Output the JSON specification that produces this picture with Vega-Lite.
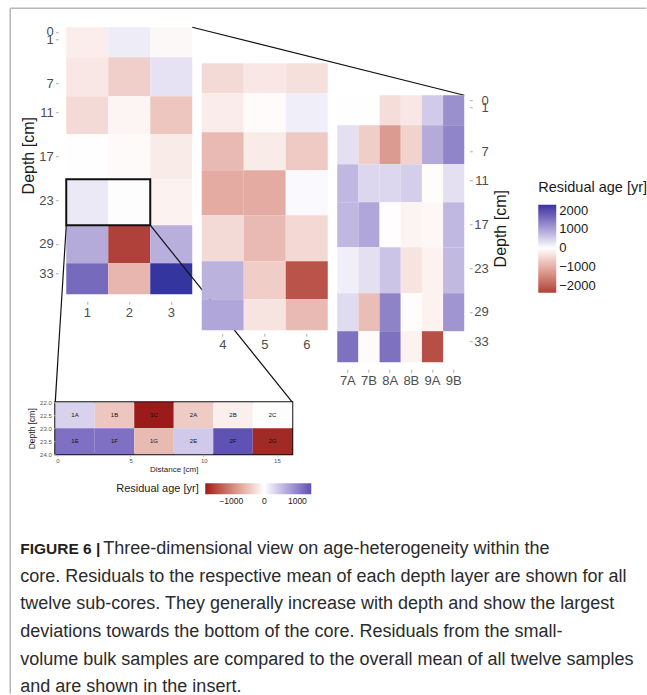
{
  "$schema": "https://vega.github.io/schema/vega-lite/v6.json",
  "padding": {"left": 9.25, "top": 7.25, "right": 0, "bottom": 0},
  "background": "white",
  "config": {
    "view": {"stroke": null},
    "font": "Liberation Sans",
    "axis": {"grid": false, "domain": false, "labelFont": "Liberation Sans", "labelColor": "#4d4d4d", "labelFontSize": 13, "tickColor": "#b0b0b0", "tickSize": 3, "tickWidth": 1, "titleFontWeight": "normal", "titleColor": "#1a1a1a", "titleFontSize": 16, "labelFlush": false},
    "legend": {"titleFontWeight": "normal", "labelColor": "#1a1a1a", "titleColor": "#1a1a1a", "gradientStrokeWidth": 0, "titleFont": "Liberation Sans", "labelFont": "Liberation Sans"}
  },
  "datasets": {
    "layers": [
      {"layer": 1, "top": -0.65, "bottom": 3.45},
      {"layer": 2, "top": 3.45, "bottom": 8.8},
      {"layer": 3, "top": 8.8, "bottom": 14.0},
      {"layer": 4, "top": 14.0, "bottom": 20.15},
      {"layer": 5, "top": 20.15, "bottom": 26.45},
      {"layer": 6, "top": 26.45, "bottom": 31.65},
      {"layer": 7, "top": 31.65, "bottom": 35.9}
    ],
    "cells": [
      {"core": "1", "layer": 1, "resid": -220}, {"core": "1", "layer": 2, "resid": -300}, {"core": "1", "layer": 3, "resid": -450}, {"core": "1", "layer": 4, "resid": -15}, {"core": "1", "layer": 5, "resid": 230}, {"core": "1", "layer": 6, "resid": 900}, {"core": "1", "layer": 7, "resid": 1650},
      {"core": "2", "layer": 1, "resid": 200}, {"core": "2", "layer": 2, "resid": -600}, {"core": "2", "layer": 3, "resid": -120}, {"core": "2", "layer": 4, "resid": -60}, {"core": "2", "layer": 5, "resid": 20}, {"core": "2", "layer": 6, "resid": -2370}, {"core": "2", "layer": 7, "resid": -900},
      {"core": "3", "layer": 1, "resid": -80}, {"core": "3", "layer": 2, "resid": 300}, {"core": "3", "layer": 3, "resid": -700}, {"core": "3", "layer": 4, "resid": -250}, {"core": "3", "layer": 5, "resid": -150}, {"core": "3", "layer": 6, "resid": 850}, {"core": "3", "layer": 7, "resid": 2310},
      {"core": "4", "layer": 1, "resid": -450}, {"core": "4", "layer": 2, "resid": -230}, {"core": "4", "layer": 3, "resid": -850}, {"core": "4", "layer": 4, "resid": -1050}, {"core": "4", "layer": 5, "resid": -450}, {"core": "4", "layer": 6, "resid": 820}, {"core": "4", "layer": 7, "resid": 950},
      {"core": "5", "layer": 1, "resid": -300}, {"core": "5", "layer": 2, "resid": -50}, {"core": "5", "layer": 3, "resid": -250}, {"core": "5", "layer": 4, "resid": -1050}, {"core": "5", "layer": 5, "resid": -850}, {"core": "5", "layer": 6, "resid": -620}, {"core": "5", "layer": 7, "resid": -350},
      {"core": "6", "layer": 1, "resid": -380}, {"core": "6", "layer": 2, "resid": 180}, {"core": "6", "layer": 3, "resid": -650}, {"core": "6", "layer": 4, "resid": 60}, {"core": "6", "layer": 5, "resid": -480}, {"core": "6", "layer": 6, "resid": -2150}, {"core": "6", "layer": 7, "resid": -850},
      {"core": "7A", "layer": 1, "resid": 10}, {"core": "7A", "layer": 2, "resid": 320}, {"core": "7A", "layer": 3, "resid": 750}, {"core": "7A", "layer": 4, "resid": 760}, {"core": "7A", "layer": 5, "resid": 180}, {"core": "7A", "layer": 6, "resid": 380}, {"core": "7A", "layer": 7, "resid": 1550},
      {"core": "7B", "layer": 1, "resid": -10}, {"core": "7B", "layer": 2, "resid": -620}, {"core": "7B", "layer": 3, "resid": 420}, {"core": "7B", "layer": 4, "resid": 950}, {"core": "7B", "layer": 5, "resid": 320}, {"core": "7B", "layer": 6, "resid": -820}, {"core": "7B", "layer": 7, "resid": -50},
      {"core": "8A", "layer": 1, "resid": -420}, {"core": "8A", "layer": 2, "resid": -1250}, {"core": "8A", "layer": 3, "resid": 420}, {"core": "8A", "layer": 4, "resid": -20}, {"core": "8A", "layer": 5, "resid": 620}, {"core": "8A", "layer": 6, "resid": 1350}, {"core": "8A", "layer": 7, "resid": 1550},
      {"core": "8B", "layer": 1, "resid": -300}, {"core": "8B", "layer": 2, "resid": -560}, {"core": "8B", "layer": 3, "resid": 520}, {"core": "8B", "layer": 4, "resid": -140}, {"core": "8B", "layer": 5, "resid": -330}, {"core": "8B", "layer": 6, "resid": -30}, {"core": "8B", "layer": 7, "resid": -160},
      {"core": "9A", "layer": 1, "resid": 550}, {"core": "9A", "layer": 2, "resid": 900}, {"core": "9A", "layer": 3, "resid": -30}, {"core": "9A", "layer": 4, "resid": -100}, {"core": "9A", "layer": 5, "resid": -160}, {"core": "9A", "layer": 6, "resid": -150}, {"core": "9A", "layer": 7, "resid": -2200},
      {"core": "9B", "layer": 1, "resid": 1200}, {"core": "9B", "layer": 2, "resid": 1330}, {"core": "9B", "layer": 3, "resid": 320}, {"core": "9B", "layer": 4, "resid": 760}, {"core": "9B", "layer": 5, "resid": 740}, {"core": "9B", "layer": 6, "resid": 1150}
    ],
    "guides": [
      {"kind": "frame", "x": -0.8333, "y": -3.25, "x2": -0.8333, "y2": 90.6},
      {"kind": "frame", "x": -0.8333, "y": -3.25, "x2": 14.31, "y2": -3.25},
      {"kind": "link", "x": 3.5, "y": -0.65, "x2": 9.976, "y2": 8.66},
      {"kind": "link", "x": 0.5, "y": 26.45, "x2": 0.238, "y2": 50.68},
      {"kind": "link", "x": 2.5, "y": 26.45, "x2": 5.881, "y2": 50.68},
      {"kind": "box", "x": 0.5, "y": 20.15, "x2": 2.5, "y2": 26.45}
    ],
    "insetcols": [
      {"col": 1, "from": -0.15, "to": 2.55, "center": 1.2},
      {"col": 2, "from": 2.55, "to": 5.25, "center": 3.9},
      {"col": 3, "from": 5.25, "to": 7.95, "center": 6.6},
      {"col": 4, "from": 7.95, "to": 10.65, "center": 9.3},
      {"col": 5, "from": 10.65, "to": 13.35, "center": 12.0},
      {"col": 6, "from": 13.35, "to": 16.05, "center": 14.7}
    ],
    "inset": [
      {"sample": "1A", "col": 1, "top": 22, "bottom": 23, "depth": 22.5, "resid": 350},
      {"sample": "1B", "col": 2, "top": 22, "bottom": 23, "depth": 22.5, "resid": -450},
      {"sample": "1C", "col": 3, "top": 22, "bottom": 23, "depth": 22.5, "resid": -1790},
      {"sample": "2A", "col": 4, "top": 22, "bottom": 23, "depth": 22.5, "resid": -420},
      {"sample": "2B", "col": 5, "top": 22, "bottom": 23, "depth": 22.5, "resid": -130},
      {"sample": "2C", "col": 6, "top": 22, "bottom": 23, "depth": 22.5, "resid": -10},
      {"sample": "1E", "col": 1, "top": 23, "bottom": 24, "depth": 23.5, "resid": 1150},
      {"sample": "1F", "col": 2, "top": 23, "bottom": 24, "depth": 23.5, "resid": 1150},
      {"sample": "1G", "col": 3, "top": 23, "bottom": 24, "depth": 23.5, "resid": -550},
      {"sample": "2E", "col": 4, "top": 23, "bottom": 24, "depth": 23.5, "resid": 420},
      {"sample": "2F", "col": 5, "top": 23, "bottom": 24, "depth": 23.5, "resid": 1420},
      {"sample": "2G", "col": 6, "top": 23, "bottom": 24, "depth": 23.5, "resid": -1700}
    ],
    "caption": [
      {"line": 1, "part": "bold", "text": "FIGURE 6 |"},
      {"line": 1, "part": "first", "text": "Three-dimensional view on age-heterogeneity within the"},
      {"line": 2, "part": "body", "text": "core. Residuals to the respective mean of each depth layer are shown for all"},
      {"line": 3, "part": "body", "text": "twelve sub-cores. They generally increase with depth and show the largest"},
      {"line": 4, "part": "body", "text": "deviations towards the bottom of the core. Residuals from the small-"},
      {"line": 5, "part": "body", "text": "volume bulk samples are compared to the overall mean of all twelve samples"},
      {"line": 6, "part": "body", "text": "and are shown in the insert."}
    ]
  },
  "vconcat": [
    {
      "width": 409,
      "height": 335,
      "layer": [
        {
          "data": {"name": "guides"},
          "transform": [{"filter": "datum.kind == 'frame'"}],
          "mark": {"type": "rule", "color": "#b8b8b8", "strokeWidth": 1.5},
          "encoding": {
            "x": {"field": "x", "type": "quantitative", "scale": {"domain": [0.2381, 9.9762], "nice": false, "zero": false}, "axis": null},
            "x2": {"field": "x2"},
            "y": {"field": "y", "type": "quantitative", "scale": {"domain": [-0.65, 45.21], "reverse": true, "nice": false, "zero": false}, "axis": null},
            "y2": {"field": "y2"}
          }
        },
        {
          "data": {"name": "cells"},
          "transform": [
            {"filter": {"field": "core", "oneOf": ["1", "2", "3"]}},
            {"lookup": "layer", "from": {"data": {"name": "layers"}, "key": "layer", "fields": ["top", "bottom"]}}
          ],
          "mark": {"type": "rect"},
          "encoding": {
            "x": {"field": "core", "type": "nominal", "sort": ["1", "2", "3"], "scale": {"paddingInner": 0, "paddingOuter": 0, "range": [11, 137]}, "axis": {"orient": "bottom", "offset": -61, "title": null, "labelAngle": 0, "labelPadding": 2}},
            "y": {"field": "top", "type": "quantitative", "scale": {"domain": [-0.65, 45.21], "reverse": true, "nice": false, "zero": false}, "axis": {"orient": "left", "offset": -3, "values": [0, 1, 7, 11, 17, 23, 29, 33], "labelPadding": 2, "labelOverlap": false, "title": "Depth [cm]", "titlePadding": 2, "titleY": 128}},
            "y2": {"field": "bottom"},
            "color": {"field": "resid", "type": "quantitative", "scale": {"type": "linear", "domain": [-2370, 0, 2310], "range": ["#b0403a", "#ffffff", "#3535a0"], "interpolate": "lab"},
              "legend": {"orient": "none", "legendX": 483, "legendY": 154, "title": "Residual age [yr]", "titleFontSize": 14.5, "titleAnchor": "start", "titlePadding": 9, "gradientLength": 88, "gradientThickness": 18, "labelFontSize": 13, "labelOffset": 3, "values": [-2000, -1000, 0, 1000, 2000], "format": "d", "padding": 0, "direction": "vertical"}}
          }
        },
        {
          "data": {"name": "guides"},
          "transform": [{"filter": "datum.kind == 'box'"}],
          "mark": {"type": "rect", "filled": false, "color": "#111111", "strokeWidth": 2},
          "encoding": {
            "x": {"field": "x", "type": "quantitative", "scale": {"domain": [0.2381, 9.9762], "nice": false, "zero": false}, "axis": null},
            "x2": {"field": "x2"},
            "y": {"field": "y", "type": "quantitative", "scale": {"domain": [-0.65, 45.21], "reverse": true, "nice": false, "zero": false}, "axis": null},
            "y2": {"field": "y2"}
          }
        },
        {
          "data": {"name": "guides"},
          "transform": [{"filter": "datum.kind == 'link'"}],
          "mark": {"type": "rule", "color": "#111111", "strokeWidth": 1.2},
          "encoding": {
            "x": {"field": "x", "type": "quantitative", "scale": {"domain": [0.2381, 9.9762], "nice": false, "zero": false}, "axis": null},
            "x2": {"field": "x2"},
            "y": {"field": "y", "type": "quantitative", "scale": {"domain": [-0.65, 45.21], "reverse": true, "nice": false, "zero": false}, "axis": null},
            "y2": {"field": "y2"}
          }
        },
        {
          "data": {"name": "cells"},
          "transform": [
            {"filter": {"field": "core", "oneOf": ["4", "5", "6"]}},
            {"lookup": "layer", "from": {"data": {"name": "layers"}, "key": "layer", "fields": ["top", "bottom"]}}
          ],
          "mark": {"type": "rect"},
          "encoding": {
            "x": {"field": "core", "type": "nominal", "sort": ["4", "5", "6"], "scale": {"paddingInner": 0, "paddingOuter": 0, "range": [146.5, 272.5]}, "axis": {"orient": "bottom", "offset": -29, "title": null, "labelAngle": 0, "labelPadding": 2}},
            "y": {"field": "top", "type": "quantitative", "scale": {"domain": [-5.578, 40.28], "reverse": true, "nice": false, "zero": false}, "axis": null},
            "y2": {"field": "bottom"},
            "color": {"field": "resid", "type": "quantitative", "scale": {"type": "linear", "domain": [-2370, 0, 2310], "range": ["#b0403a", "#ffffff", "#3535a0"], "interpolate": "lab"},
              "legend": {"orient": "none", "legendX": 483, "legendY": 154, "title": "Residual age [yr]", "titleFontSize": 14.5, "titleAnchor": "start", "titlePadding": 9, "gradientLength": 88, "gradientThickness": 18, "labelFontSize": 13, "labelOffset": 3, "values": [-2000, -1000, 0, 1000, 2000], "format": "d", "padding": 0, "direction": "vertical"}}
          }
        },
        {
          "data": {"name": "cells"},
          "transform": [
            {"filter": {"field": "core", "oneOf": ["7A", "7B", "8A", "8B", "9A", "9B"]}},
            {"lookup": "layer", "from": {"data": {"name": "layers"}, "key": "layer", "fields": ["top", "bottom"]}}
          ],
          "mark": {"type": "rect"},
          "encoding": {
            "x": {"field": "core", "type": "nominal", "sort": ["7A", "7B", "8A", "8B", "9A", "9B"], "scale": {"paddingInner": 0, "paddingOuter": 0, "range": [282, 409]}, "axis": {"orient": "bottom", "offset": 7, "title": null, "labelAngle": 0, "labelPadding": 2}},
            "y": {"field": "top", "type": "quantitative", "scale": {"domain": [-9.959, 35.9], "reverse": true, "nice": false, "zero": false}, "axis": {"orient": "right", "offset": 5, "values": [0, 1, 7, 11, 17, 23, 29, 33], "labelAlign": "right", "labelPadding": 16, "labelOverlap": false, "title": "Depth [cm]", "titleAngle": 270, "titleBaseline": "middle", "titleAlign": "center", "titleX": 31, "titleY": 201}},
            "y2": {"field": "bottom"},
            "color": {"field": "resid", "type": "quantitative", "scale": {"type": "linear", "domain": [-2370, 0, 2310], "range": ["#b0403a", "#ffffff", "#3535a0"], "interpolate": "lab"},
              "legend": {"orient": "none", "legendX": 483, "legendY": 154, "title": "Residual age [yr]", "titleFontSize": 14.5, "titleAnchor": "start", "titlePadding": 9, "gradientLength": 88, "gradientThickness": 18, "labelFontSize": 13, "labelOffset": 3, "values": [-2000, -1000, 0, 1000, 2000], "format": "d", "padding": 0, "direction": "vertical"}}
          }
        }
      ],
      "resolve": {"scale": {"x": "independent", "y": "independent"}}
    },
    {
      "width": 237,
      "height": 52,
      "view": {"stroke": "#111111", "strokeWidth": 2},
      "data": {"name": "inset"},
      "transform": [{"lookup": "col", "from": {"data": {"name": "insetcols"}, "key": "col", "fields": ["from", "to", "center"]}}],
      "layer": [
        {
          "mark": {"type": "rect"},
          "encoding": {
            "x": {"field": "from", "type": "quantitative", "scale": {"domain": [-0.15, 16.05], "nice": false, "zero": false}, "axis": {"values": [0, 5, 10, 15], "title": "Distance [cm]", "labelFontSize": 6, "labelColor": "#555555", "tickSize": 2, "labelPadding": 1, "titleFontSize": 8, "titlePadding": 2, "labelOverlap": false}},
            "x2": {"field": "to"},
            "y": {"field": "top", "type": "quantitative", "scale": {"domain": [22, 24], "reverse": true, "nice": false, "zero": false}, "axis": {"values": [22, 22.5, 23, 23.5, 24], "format": ".1f", "title": "Depth [cm]", "labelFontSize": 6, "labelColor": "#555555", "labelOverlap": false, "labelSeparation": 0, "tickSize": 2, "labelPadding": 2, "titleFontSize": 8.5, "titlePadding": 3}},
            "y2": {"field": "bottom"},
            "color": {"field": "resid", "type": "quantitative", "scale": {"type": "linear", "domain": [-1790, 0, 1420], "range": ["#9b1a1a", "#ffffff", "#5f52b4"], "interpolate": "lab"},
              "legend": {"orient": "none", "legendX": 61, "legendY": 81, "direction": "horizontal", "titleOrient": "left", "title": "Residual age [yr]", "titleFontSize": 11, "titlePadding": 6, "gradientLength": 106, "gradientThickness": 11, "labelFontSize": 8.5, "labelOffset": 3, "values": [-1000, 0, 1000], "format": "d", "padding": 0}}
          }
        },
        {
          "mark": {"type": "text", "fontSize": 6, "color": "#111111"},
          "encoding": {
            "x": {"field": "center", "type": "quantitative", "axis": {"values": [0, 5, 10, 15], "title": "Distance [cm]", "labelFontSize": 6, "labelColor": "#555555", "tickSize": 2, "labelPadding": 1, "titleFontSize": 8, "titlePadding": 2, "labelOverlap": false}},
            "y": {"field": "depth", "type": "quantitative", "axis": {"values": [22, 22.5, 23, 23.5, 24], "format": ".1f", "title": "Depth [cm]", "labelFontSize": 6, "labelColor": "#555555", "labelOverlap": false, "labelSeparation": 0, "tickSize": 2, "labelPadding": 2, "titleFontSize": 8.5, "titlePadding": 3}},
            "text": {"field": "sample"}
          }
        }
      ]
    },
    {
      "width": 590,
      "height": 200,
      "data": {"name": "caption"},
      "layer": [
        {
          "transform": [{"filter": "datum.part == 'bold'"}],
          "mark": {"type": "text", "align": "left", "baseline": "middle", "fontSize": 15.5, "fontWeight": "bold", "color": "#231f20"},
          "encoding": {
            "x": {"value": -35},
            "y": {"field": "line", "type": "quantitative", "scale": {"domain": [-0.993, 6.253], "reverse": true, "nice": false, "zero": false}, "axis": null},
            "text": {"field": "text"}
          }
        },
        {
          "transform": [{"filter": "datum.part == 'first'"}],
          "mark": {"type": "text", "align": "left", "baseline": "middle", "fontSize": 18, "dx": 83, "color": "#2b2b2b"},
          "encoding": {
            "x": {"value": -35},
            "y": {"field": "line", "type": "quantitative", "scale": {"domain": [-0.993, 6.253], "reverse": true, "nice": false, "zero": false}, "axis": null},
            "text": {"field": "text"}
          }
        },
        {
          "transform": [{"filter": "datum.part == 'body'"}],
          "mark": {"type": "text", "align": "left", "baseline": "middle", "fontSize": 18, "color": "#2b2b2b"},
          "encoding": {
            "x": {"value": -35},
            "y": {"field": "line", "type": "quantitative", "scale": {"domain": [-0.993, 6.253], "reverse": true, "nice": false, "zero": false}, "axis": null},
            "text": {"field": "text"}
          }
        }
      ]
    }
  ],
  "spacing": 40,
  "bounds": "flush",
  "resolve": {"scale": {"color": "independent"}}
}
